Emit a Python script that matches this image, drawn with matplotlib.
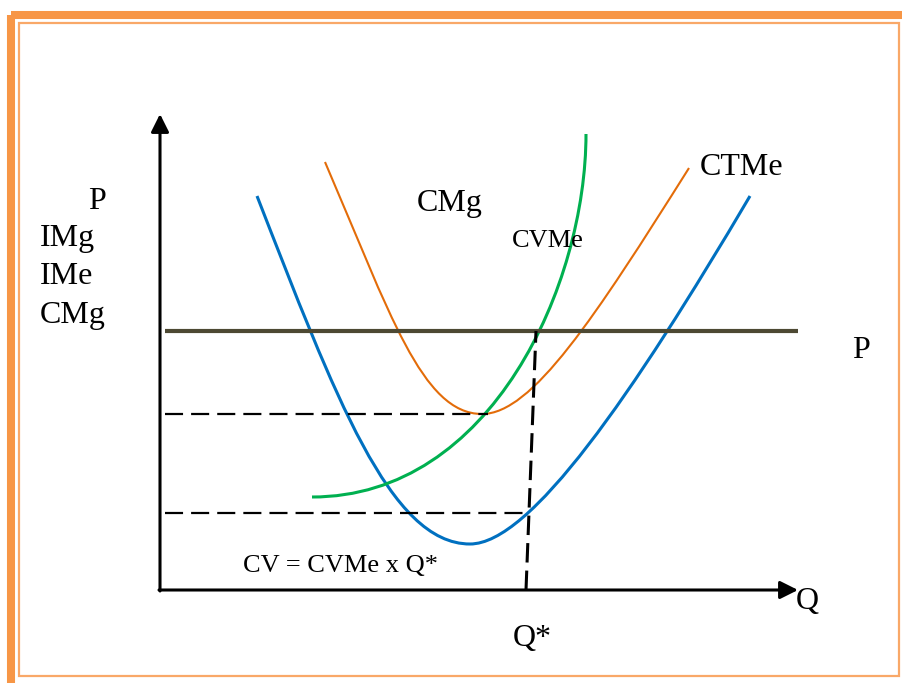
import matplotlib
matplotlib.use("Agg")
from matplotlib import pyplot as plt
from matplotlib.path import Path
from matplotlib.patches import PathPatch, Rectangle

plt.rcParams["font.family"] = ["Liberation Serif", "DejaVu Serif"]
plt.rcParams["lines.scale_dashes"] = False

# curve control points (cubic bezier, pixel space)
cvme_x = [257, 335, 390, 470, 530, 632, 750]
cvme_y = [196, 396, 544, 544, 544, 396, 196]
ctme_x = [325, 389.5, 422, 482, 532, 594.5, 689]
ctme_y = [162, 312, 414, 414, 414, 318, 168]
cmg_x = [312, 492, 586, 586]
cmg_y = [497, 497, 284, 134]

price = 331
ctme_min = 414
cvme_at_q = 513
q_star = [526, 536]   # bottom / top of the dashed Q* line

left_labels = ["P", "IMg", "IMe", "CMg"]

fig = plt.figure(figsize=(9.03, 6.83), dpi=100)
ax = fig.add_axes([0, 0, 1, 1])
ax.set_xlim(0, 903)
ax.set_ylim(683, 0)
ax.axis("off")

# orange double frame
ax.add_patch(Rectangle((11, 15), 905, 670, fill=False, ec="#F79646", lw=5.8))
ax.add_patch(Rectangle((19.5, 22.5), 880, 653.5, fill=False, ec="#F9A868", lw=1.6))


def bez(xs, ys, color, lw):
    verts = list(zip(xs, ys))
    codes = [Path.MOVETO] + [Path.CURVE4] * (len(verts) - 1)
    ax.add_patch(PathPatch(Path(verts, codes), fc="none", ec=color, lw=lw,
                           capstyle="butt"))


# axes with arrows
arrow = dict(arrowstyle="-|>,head_length=0.4,head_width=0.2", color="black",
             lw=2.2, shrinkA=0, shrinkB=0, mutation_scale=27)
ax.annotate("", xy=(160, 114), xytext=(160, 591), arrowprops=arrow)
ax.annotate("", xy=(798, 590), xytext=(159, 590), arrowprops=arrow)

# price line
ax.plot([165, 798], [price, price], color="#4D4933", lw=3, solid_capstyle="butt")

# dashed guides
dash = dict(color="black", lw=1.6, dashes=(13, 5.8))
ax.plot([165, 488], [ctme_min, ctme_min], **dash)
ax.plot([165, 528], [cvme_at_q, cvme_at_q], **dash)
ax.plot(q_star, [590, price], color="black", lw=2.2, dashes=(14, 5.8))

# curves
bez(cvme_x, cvme_y, "#0070C0", 2.2)
bez(ctme_x, ctme_y, "#E36C09", 1.5)
bez(cmg_x, cmg_y, "#00B050", 2.2)

big = 23
small = 19
ax.text(88, 209, left_labels[0], fontsize=big, va="baseline")
ax.text(40, 246, left_labels[1], fontsize=big, va="baseline")
ax.text(40, 284, left_labels[2], fontsize=big, va="baseline")
ax.text(40, 323, left_labels[3], fontsize=big, va="baseline")
ax.text(417, 211, "CMg", fontsize=big, va="baseline")
ax.text(512, 247, "CVMe", fontsize=small, va="baseline")
ax.text(700, 175, "CTMe", fontsize=big, va="baseline")
ax.text(852, 358, "P", fontsize=big, va="baseline")
ax.text(796, 609, "Q", fontsize=big, va="baseline")
ax.text(513, 646, "Q*", fontsize=big, va="baseline")
ax.text(243, 572, "CV = CVMe x Q*", fontsize=small, va="baseline")

plt.savefig("out.png", dpi=100)
